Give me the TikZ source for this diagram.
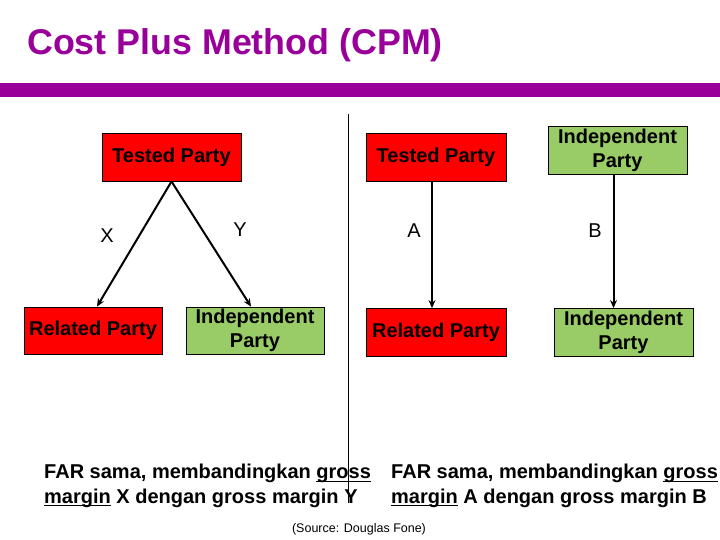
\documentclass[tikz,border=0pt]{standalone}
\usepackage{fontspec}
\setmainfont{Liberation Sans}
\usetikzlibrary{arrows.meta, positioning}
\definecolor{unguJudul}{HTML}{990099}
\definecolor{merahPihak}{HTML}{FF0000}
\definecolor{hijauPihak}{HTML}{99CC66}
\newsavebox{\kotakGaris}
\newcommand{\garisBawah}[1]{\sbox{\kotakGaris}{#1}\rlap{\rule[-3pt]{\wd\kotakGaris}{1.1pt}}\usebox{\kotakGaris}}

\begin{document}
\begin{tikzpicture}[x=1pt, y=-1pt,
        pihak/.style={draw=black, line width=0.9pt, align=center, inner sep=0pt,
            font=\fontsize{20}{24}\selectfont\bfseries},
        merah/.style={pihak, fill=merahPihak},
        hijau/.style={pihak, fill=hijauPihak},
        panah/.style={-{Stealth[length=8pt, width=7pt]}, line width=2pt},
        huruf/.style={inner sep=0pt, font=\fontsize{20}{23}\selectfont},
        catatan/.style={align=left, anchor=north west, inner sep=0pt,
            font=\fontsize{20}{24.5}\selectfont\bfseries}
    ]
        \useasboundingbox (0,0) rectangle (720,540);
        % judul
        \node[anchor=west, inner sep=0pt, text=unguJudul,
            font=\fontsize{35.8}{40}\selectfont\bfseries] (judul) at (27,45) {Cost Plus Method (CPM)};
        \fill[unguJudul] (0,83) rectangle (720,97);

        % pemisah
        \coordinate (garisA) at (348,114);
        \coordinate (garisB) at (348,503);
        \draw[line width=1pt] (garisA) -- (garisB);

        % kiri
        \node[merah, minimum width=139pt, minimum height=48pt] (tpKiri) at (171.5,157) {Tested Party};
        \node[merah, minimum width=138pt, minimum height=47pt] (rpKiri) at (93,330.5) {Related Party};
        \node[hijau, minimum width=138pt, minimum height=47pt] (ipKiri) at (255,330.5) {Independent\\Party};
        \node[huruf] (lblX) at (107,236) {X};
        \node[huruf] (lblY) at (240,230) {Y};
        \draw[panah] (tpKiri.south) -- ([xshift=4pt]rpKiri.north);
        \draw[panah] (tpKiri.south) -- ([xshift=-4pt]ipKiri.north);

        % kanan
        \node[merah, minimum width=140pt, minimum height=48pt] (tpKanan) at (436,157) {Tested Party};
        \node[merah, minimum width=140pt, minimum height=48pt] (rpKanan) at (436,332.5) {Related Party};
        \node[hijau, minimum width=139pt, minimum height=48pt] (ipAtas) at (617.5,150) {Independent\\Party};
        \node[hijau, minimum width=139pt, minimum height=48pt] (ipBawah) at (623.5,332.5) {Independent\\Party};
        \node[huruf] (lblA) at (414,231) {A};
        \node[huruf] (lblB) at (595,231) {B};
        \draw[panah] ([xshift=-4pt]tpKanan.south) -- ([xshift=-4pt]rpKanan.north);
        \draw[panah] ([xshift=-4pt]ipAtas.south) -- ([xshift=-4pt]ipAtas.south |- ipBawah.north);

        % keterangan
        \node[catatan] (ketKiri) at (44,464) {FAR sama, membandingkan \garisBawah{gross}\\\garisBawah{margin} X dengan gross margin Y};
        \node[catatan] (ketKanan) at (391,464) {FAR sama, membandingkan \garisBawah{gross}\\\garisBawah{margin} A dengan gross margin B};
        \node[inner sep=0pt, font=\fontsize{12.5}{14}\selectfont] (sumber) at (359,529) {(Source: Douglas Fone)};
    \end{tikzpicture}
\end{document}
